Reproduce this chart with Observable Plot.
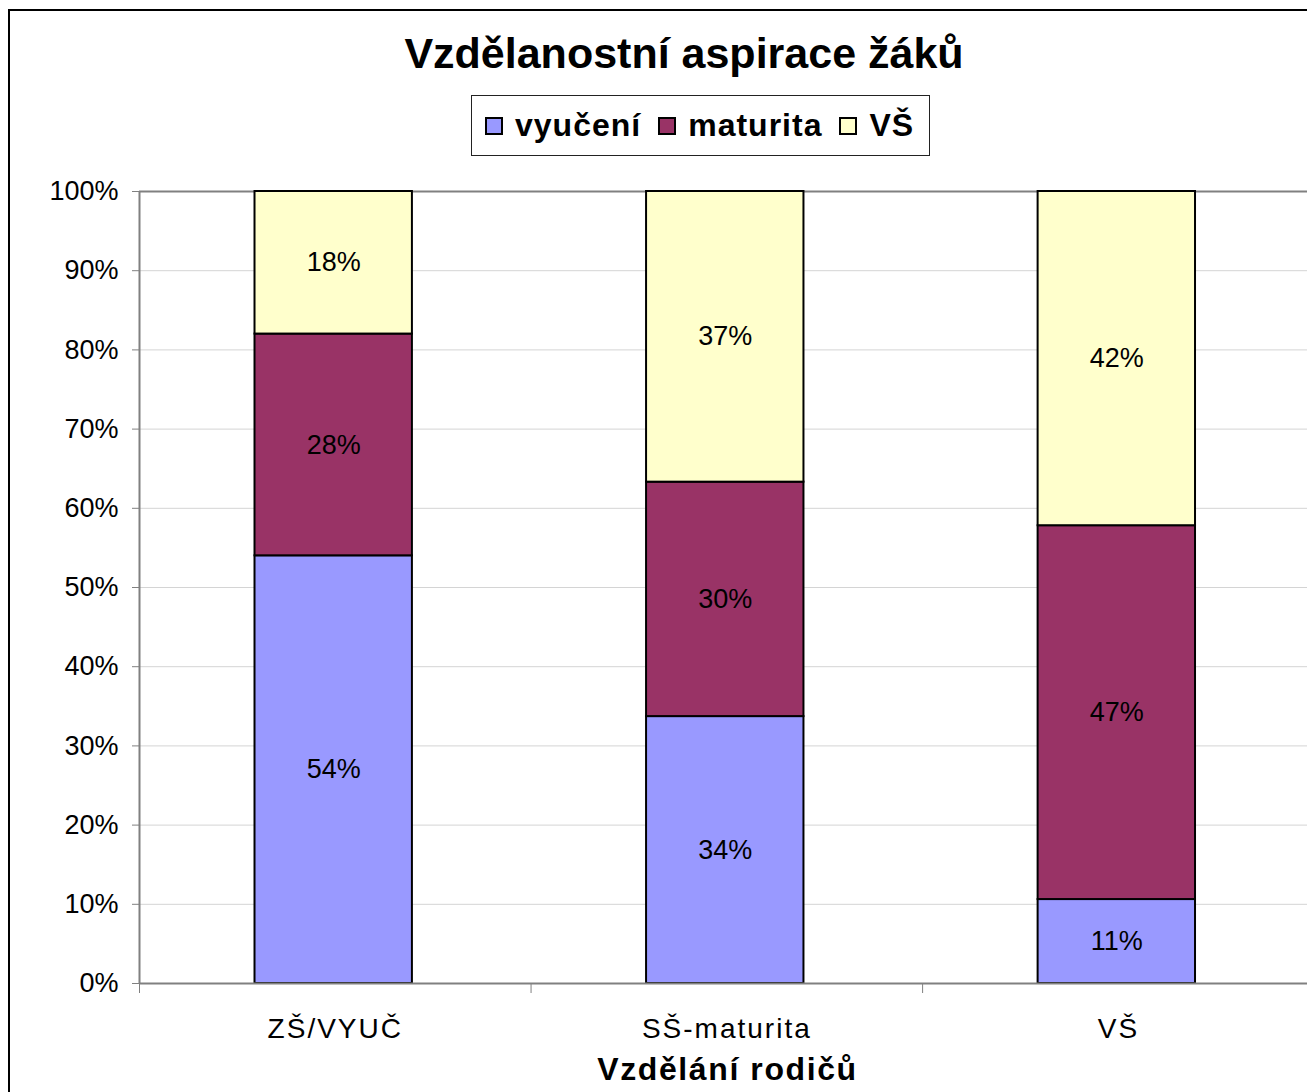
<!DOCTYPE html>
<html><head><meta charset="utf-8">
<script src="https://cdn.jsdelivr.net/npm/d3@7"></script>
<script src="https://cdn.jsdelivr.net/npm/@observablehq/plot@0.6"></script>
<style>
body{margin:0;width:1307px;height:1092px;overflow:hidden;background:#fff;font-family:"Liberation Sans",Arial,sans-serif;position:relative}
#frame{position:absolute;left:8px;top:9px;width:1330px;height:1120px;border:2px solid #000;box-sizing:border-box}
#title{position:absolute;left:0;width:1368px;top:28px;text-align:center;font-weight:bold;font-size:43px;line-height:50px}
#legend{position:absolute;left:471px;top:95px;width:459px;height:61px;border:1px solid #222;box-sizing:border-box;display:flex;align-items:center;justify-content:flex-start;padding-left:13px;gap:17px;font-weight:bold;font-size:32px;letter-spacing:1px}
#legend .it{display:flex;align-items:center;gap:12px}
#legend .sw{width:18px;height:18px;border:2px solid #000;box-sizing:border-box;display:inline-block}
#chart{position:absolute;left:0;top:0}
#chart g[aria-label="x-axis tick label"] text{letter-spacing:2px}
#chart g[aria-label="text"].xtitle text, #chart .xtitle text{letter-spacing:1.6px}
</style></head>
<body>
<div id="frame"></div>
<div id="title">Vzdělanostní aspirace žáků</div>
<div id="legend"></div>
<div id="chart"></div>
<script>
const categories = ["ZŠ/VYUČ", "SŠ-maturita", "VŠ"];
const series = ["vyučení", "maturita", "VŠ"];
const vyuceni = [54, 33.7, 10.6];
const maturita = [28, 29.6, 47.2];
const vs = [18, 36.7, 42.2];
const colors = ["#9999FF", "#993366", "#FFFFCC"];
const yTicks = [0, 10, 20, 30, 40, 50, 60, 70, 80, 90, 100];
const xTitle = "Vzdělání rodičů";

const seriesValues = [vyuceni, maturita, vs];
const rows = [];
categories.forEach((c, i) => {
  let acc = 0;
  series.forEach((s, k) => {
    const v = seriesValues[k][i];
    rows.push({i, cat: c, series: s, value: v, y1: acc, y2: acc + v});
    acc += v;
  });
});

const leg = document.getElementById("legend");
series.forEach((s, k) => {
  const it = document.createElement("span");
  it.className = "it";
  const sw = document.createElement("span");
  sw.className = "sw";
  sw.style.background = colors[k];
  const t = document.createElement("span");
  t.textContent = s;
  it.appendChild(sw); it.appendChild(t);
  leg.appendChild(it);
});

const chart = Plot.plot({
  width: 1307,
  height: 1092,
  marginTop: 191,
  marginBottom: 109,
  marginLeft: 139,
  marginRight: 0,
  style: {fontFamily: "Liberation Sans, Arial, sans-serif", background: "transparent"},
  x: {type: "linear", domain: [0, 2.983]},
  y: {domain: [0, 100]},
  color: {domain: series, range: colors},
  marks: [
    Plot.gridY(yTicks.filter(d => d > 0 && d < 100), {stroke: "#d4d4d4", strokeOpacity: 1, strokeWidth: 1}),
    Plot.ruleY([100], {stroke: "#808080", strokeWidth: 2}),
    Plot.rect(rows, {x1: d => d.i + 0.295, x2: d => d.i + 0.697, y1: "y1", y2: "y2", fill: "series", stroke: "#000", strokeWidth: 2}),
    Plot.text(rows, {x: d => d.i + 0.496, y: d => (d.y1 + d.y2) / 2, text: d => Math.round(d.value) + "%", fontSize: 27, fill: "#000"}),
    Plot.ruleY([0], {stroke: "#808080", strokeWidth: 2}),
    Plot.ruleX([0], {stroke: "#808080", strokeWidth: 2}),
    Plot.axisY({ticks: yTicks, tickFormat: d => d + "%", tickSize: 7, tickPadding: 14, fontSize: 27, stroke: "#808080", fill: "#000", label: null}),
    Plot.axisX({ticks: [0, 1, 2], tickSize: 10, tickFormat: () => "", stroke: "#808080", label: null}),
    Plot.axisX({ticks: [0.5, 1.5, 2.5], tickSize: 0, tickPadding: 35, tickFormat: d => categories[Math.floor(d)], fontSize: 28, fill: "#000", label: null}),
    Plot.text([xTitle], {frameAnchor: "bottom", dy: 96, fontWeight: "bold", fontSize: 32, fill: "#000", dx: 4, className: "xtitle"})
  ]
});
document.getElementById("chart").appendChild(chart);
</script>
</body></html>
